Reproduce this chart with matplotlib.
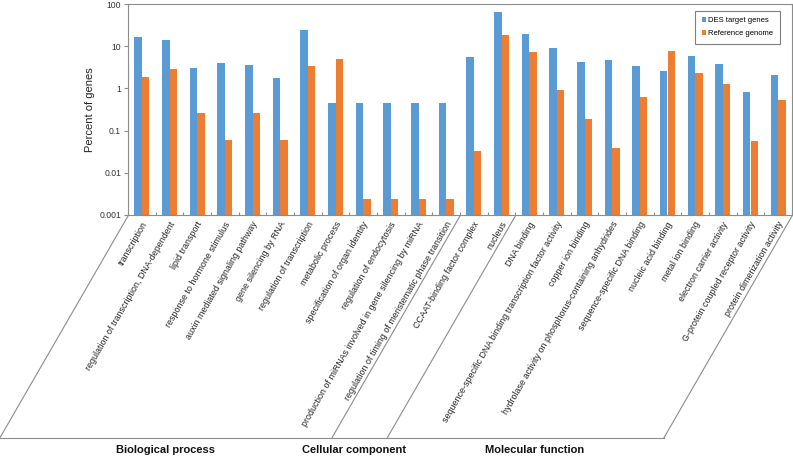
import matplotlib
matplotlib.use("Agg")
import matplotlib.pyplot as plt
import numpy as np
from matplotlib.lines import Line2D

plt.rcParams['font.family'] = ['Liberation Sans', 'DejaVu Sans']

categories = [
    "transcription",
    "regulation of transcription, DNA-dependent",
    "lipid transport",
    "response to hormone stimulus",
    "auxin mediated signaling pathway",
    "gene silencing by RNA",
    "regulation of transcription",
    "metabolic process",
    "specification of organ identity",
    "regulation of endocytosis",
    "production of miRNAs involved in gene silencing by miRNA",
    "regulation of timing of meristematic phase transition",
    "CCAAT-binding factor complex",
    "nucleus",
    "DNA binding",
    "sequence-specific DNA binding transcription factor activity",
    "copper ion binding",
    "hydrolase activity on phosphorus-containing anhydrides",
    "sequence-specific DNA binding",
    "nucleic acid binding",
    "metal ion binding",
    "electron carrier activity",
    "G-protein coupled receptor activity",
    "protein dimerization activity",
]
des_target = [16.3, 14.0, 3.0, 3.9, 3.5, 1.75, 24.2, 0.44, 0.44, 0.44, 0.44, 0.44,
              5.65, 66.0, 19.8, 9.2, 4.2, 4.6, 3.35, 2.55, 5.9, 3.8, 0.83, 2.1]
reference = [1.86, 2.93, 0.26, 0.06, 0.26, 0.06, 3.4, 4.9, 0.0024, 0.0024, 0.0024, 0.0024,
             0.032, 18.1, 7.2, 0.92, 0.185, 0.038, 0.61, 7.7, 2.36, 1.26, 0.056, 0.53]
groups = ["Biological process", "Cellular component", "Molecular function"]
group_sizes = [12, 2, 10]
yticks = [0.001, 0.01, 0.1, 1, 10, 100]
ytick_labels = ["0.001", "0.01", "0.1", "1", "10", "100"]

blue = "#5B9BD5"
orange = "#ED7D31"
gray = "#8c8c8c"

W, H = 793, 457
fig = plt.figure(figsize=(W / 100, H / 100), dpi=100)
ax = fig.add_axes([128 / W, 1 - 215 / H, 664 / W, 211 / H])

x = np.arange(len(categories))
bw = 0.27
ax.bar(x - bw / 2, des_target, bw, color=blue, label="DES target genes")
ax.bar(x + bw / 2, reference, bw, color=orange, label="Reference genome")

ax.set_yscale("log")
ax.set_ylim(1e-3, 100)
ax.set_xlim(-0.5, len(categories) - 0.5)
ax.set_yticks(yticks)
ax.set_yticklabels(ytick_labels)
ax.yaxis.set_minor_locator(matplotlib.ticker.NullLocator())
ax.tick_params(axis="y", direction="out", length=3, color=gray, labelsize=6.2,
               labelcolor="#333333", pad=2)
ax.set_xticks(np.arange(len(categories) + 1) - 0.5)
ax.set_xticklabels([])
ax.tick_params(axis="x", direction="in", length=2, color=gray)
for s in ax.spines.values():
    s.set_color(gray)
    s.set_linewidth(0.8)
ax.set_ylabel("Percent of genes", fontsize=8, labelpad=3, color="#222222")

leg = ax.legend(loc="upper right", bbox_to_anchor=(0.987, 0.985), fontsize=5.5,
                handlelength=0.6, handleheight=0.6, handletextpad=0.3,
                borderpad=0.8, labelspacing=0.8, fancybox=False, framealpha=1)
leg.get_frame().set_edgecolor("#7f7f7f")
leg.get_frame().set_linewidth(0.8)

# category labels, rotated below the axis
for i, name in enumerate(categories):
    ax.text(i + 0.12, -0.035, name, transform=ax.get_xaxis_transform(),
            rotation=60, rotation_mode="anchor", ha="right", va="center",
            fontsize=6.4, color="#222222")

# slanted group frame under the axis
fig.canvas.draw()
ybot_ax = 1 - 216 / H
ybot = 1 - 438 / H
shift = (438 - 216) / np.tan(np.radians(60)) / W
bounds = np.concatenate([[0], np.cumsum(group_sizes)]) - 0.5
inv = fig.transFigure.inverted()
bx = [inv.transform(ax.transData.transform((b, 1e-3)))[0] for b in bounds]
for b in bx:
    fig.add_artist(Line2D([b, b - shift], [ybot_ax, ybot], color=gray, lw=0.8,
                          transform=fig.transFigure))
fig.add_artist(Line2D([bx[0] - shift, bx[-1] - shift], [ybot, ybot], color=gray,
                      lw=0.8, transform=fig.transFigure))

label_offsets = [0, -5 / W, 9 / W]
for k, g in enumerate(groups):
    cx = (bx[k] + bx[k + 1]) / 2 - shift + label_offsets[k]
    fig.text(cx, 1 - 450 / H, g, ha="center", va="center", fontsize=8,
             fontweight="bold", color="#111111")

fig.savefig("out.png", dpi=100)
